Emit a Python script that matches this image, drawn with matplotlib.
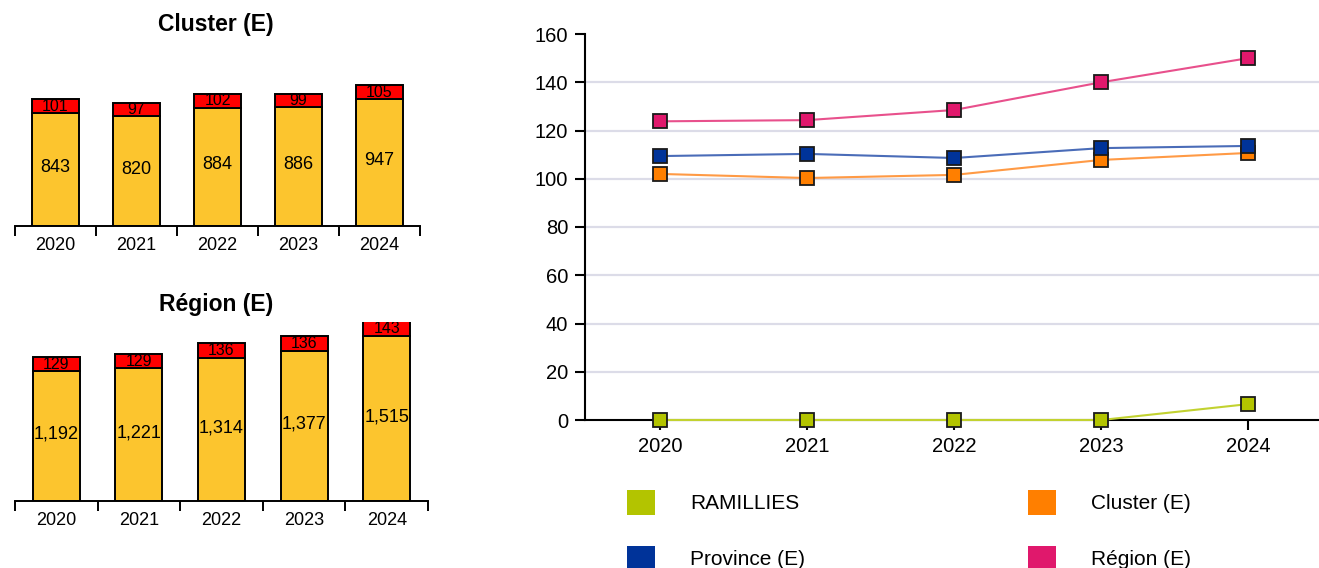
import numpy as np
import matplotlib.pyplot as plt
from matplotlib.patches import Patch

plt.rcParams['font.family'] = ['Liberation Sans', 'DejaVu Sans']

# --- Données ---
annees = ['2020', '2021', '2022', '2023', '2024']

cluster_bas = [843, 820, 884, 886, 947]
cluster_haut = [101, 97, 102, 99, 105]
region_bas = [1192, 1221, 1314, 1377, 1515]
region_haut = [129, 129, 136, 136, 143]

ramillies = [0, 0, 0, 0, 6.6]
cluster_e = [102.0, 100.3, 101.6, 107.8, 110.7]
province_e = [109.4, 110.3, 108.6, 112.7, 113.6]
region_e = [123.8, 124.3, 128.5, 140.0, 150.0]

noms = ['RAMILLIES', 'Province (E)', 'Cluster (E)', 'Région (E)']
couleurs = {'RAMILLIES': '#b3c400', 'Cluster (E)': '#ff7f00',
            'Province (E)': '#003399', 'Région (E)': '#e0186c'}
couleurs_ligne = {'RAMILLIES': '#c2d230', 'Cluster (E)': '#ff9a45',
                  'Province (E)': '#4a6cb8', 'Région (E)': '#e8508c'}

W, H = 1319, 568
fig = plt.figure(figsize=(W / 100, H / 100), dpi=100)


def px(x0, y0, x1, y1):
    # rectangle en pixels (origine en haut à gauche) -> coordonnées figure
    return [x0 / W, 1 - y1 / H, (x1 - x0) / W, (y1 - y0) / H]


def barres(ax, bas, haut, ymax, fmt):
    x = np.arange(len(annees))
    ax.bar(x, bas, width=0.57, color='#fcc52e', edgecolor='black', linewidth=1.4)
    ax.bar(x, haut, bottom=bas, width=0.57, color='#ff0000', edgecolor='black', linewidth=1.4)
    for i in range(len(x)):
        ax.text(x[i], bas[i] / 2 + ymax * 0.01, fmt(bas[i]), ha='center', va='center',
                fontsize=13, clip_on=True)
        ax.text(x[i], bas[i] + haut[i] / 2, fmt(haut[i]), ha='center', va='center',
                fontsize=11.5, clip_on=True)
    ax.set_xlim(-0.5, len(x) - 0.5)
    ax.set_ylim(0, ymax)
    for s in ['top', 'right', 'left']:
        ax.spines[s].set_visible(False)
    ax.spines['bottom'].set_linewidth(1.4)
    ax.set_yticks([])
    ax.set_xticks(np.arange(len(x) + 1) - 0.5)
    ax.set_xticklabels([])
    ax.tick_params(axis='x', which='major', length=7, width=1.4, direction='out')
    ax.set_xticks(x, minor=True)
    ax.set_xticklabels(annees, minor=True)
    ax.tick_params(axis='x', which='minor', length=0, pad=8, labelsize=13)


# --- Barres Cluster (E) ---
ax1 = fig.add_axes(px(15, 40, 420, 226))
barres(ax1, cluster_bas, cluster_haut, 1388, lambda v: f'{v:,}')
fig.text(216 / W, 1 - 25 / H, 'Cluster (E)', ha='center', va='center',
         fontsize=16.5, fontweight='bold')

# --- Barres Région (E) ---
ax2 = fig.add_axes(px(15, 322, 428, 501))
barres(ax2, region_bas, region_haut, 1644, lambda v: f'{v:,}')
fig.text(216 / W, 1 - 304 / H, 'Région (E)', ha='center', va='center',
         fontsize=16.5, fontweight='bold')

# --- Courbes ---
ax3 = fig.add_axes(px(585, 34, 1319, 420))
x = np.arange(len(annees))
series = {'RAMILLIES': ramillies, 'Cluster (E)': cluster_e,
          'Province (E)': province_e, 'Région (E)': region_e}
for v in range(20, 160, 20):
    ax3.axhline(v, color='#dcdce8', linewidth=1.6, zorder=0)
for nom in ['RAMILLIES', 'Cluster (E)', 'Province (E)', 'Région (E)']:
    ax3.plot(x, series[nom], color=couleurs_ligne[nom], linewidth=1.5,
             marker='s', markersize=9.5, markerfacecolor=couleurs[nom],
             markeredgecolor='#1a1a1a', markeredgewidth=1.3, zorder=3, clip_on=False)
ax3.set_xlim(-0.51, 4.48)
ax3.set_ylim(0, 160)
ax3.set_yticks(range(0, 161, 20))
ax3.set_xticks(x)
ax3.set_xticklabels(annees)
for s in ['top', 'right']:
    ax3.spines[s].set_visible(False)
ax3.spines['left'].set_linewidth(1.5)
ax3.spines['bottom'].set_linewidth(1.5)
ax3.tick_params(axis='both', length=7, width=1.5, labelsize=14.5, colors='black')
ax3.tick_params(axis='y', pad=5)
ax3.tick_params(axis='x', pad=5)

poignees = [Patch(facecolor=couleurs[n], edgecolor='none') for n in noms]
fig.legend(poignees, noms, loc='upper left', bbox_to_anchor=(627 / W, 1 - 490 / H),
           ncol=2, frameon=False, fontsize=15, borderpad=0, borderaxespad=0,
           handlelength=1.35, handleheight=1.44, handletextpad=1.68,
           labelspacing=1.5, columnspacing=10.7)

fig.savefig('out.png', dpi=100)
